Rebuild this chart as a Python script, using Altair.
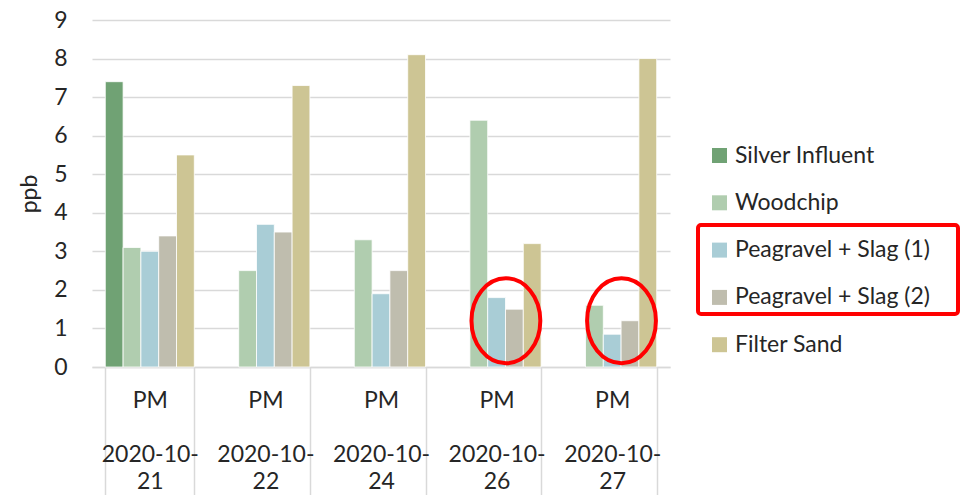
import altair as alt
import pandas as pd

# ---- data ----
dates = ["2020-10-21", "2020-10-22", "2020-10-24", "2020-10-26", "2020-10-27"]
session = "PM"
series = ["Silver Influent", "Woodchip", "Peagravel + Slag (1)",
          "Peagravel + Slag (2)", "Filter Sand"]
silver_influent = [7.4, None, None, None, None]
woodchip = [3.1, 2.5, 3.3, 6.4, 1.6]
peagravel_slag_1 = [3.0, 3.7, 1.9, 1.8, 0.85]
peagravel_slag_2 = [3.4, 3.5, 2.5, 1.5, 1.2]
filter_sand = [5.5, 7.3, 8.1, 3.2, 8.0]
colors = ["#70a274", "#b0cdaf", "#a9cdd6", "#bfbdae", "#cdc594"]

highlight_dates = ["2020-10-26", "2020-10-27"]
highlight_level = [1.2, 1.2]

# ---- tables ----
cols = [silver_influent, woodchip, peagravel_slag_1, peagravel_slag_2, filter_sand]
rows = []
for s, vals in zip(series, cols):
    for d, v in zip(dates, vals):
        if v is not None:
            rows.append({"date": d, "series": s, "value": v})
df = pd.DataFrame(rows)
hl = pd.DataFrame({"date": highlight_dates, "series": [series[3]] * 2,
                   "value": highlight_level})

FONT = "Lato"
TXT = "#262626"
GRID = "#d9d9d9"

x_enc = alt.X(
    "date:N",
    scale=alt.Scale(domain=dates, paddingInner=0.23, paddingOuter=0.115),
    axis=alt.Axis(
        title=None,
        labelExpr=("datum.label ? ['" + session + "', '\\u200b', "
                   "slice(datum.label, 0, 8), slice(datum.label, 8)] : ''"),
        labelAngle=0, labelFontSize=23, labelLineHeight=27, labelFont=FONT,
        labelColor=TXT, labelBaseline="top",
        tickBand="extent", tickSize=128, tickColor=GRID, tickWidth=1.5,
        labelPadding=-106, domainColor=GRID, domainWidth=1.5,
    ),
)
xoff = alt.XOffset("series:N", scale=alt.Scale(domain=series, paddingInner=0, paddingOuter=0))
y_enc = alt.Y(
    "value:Q",
    scale=alt.Scale(domain=[0, 9], nice=False),
    axis=alt.Axis(
        values=list(range(10)), title="ppb", grid=True, gridColor=GRID, gridWidth=1.5,
        domain=False, ticks=False, labelPadding=25, labelFontSize=23, labelFont=FONT,
        labelColor=TXT, titleFontSize=23, titleFont=FONT, titleFontWeight="normal",
        titleColor=TXT, titlePadding=12, labelOverlap=False,
    ),
)

bars = alt.Chart(df).mark_bar(stroke="white", strokeWidth=0.8).encode(
    x=x_enc,
    xOffset=xoff,
    y=y_enc,
    color=alt.Color(
        "series:N",
        scale=alt.Scale(domain=series, range=colors),
        legend=alt.Legend(
            title=None, orient="none", legendX=616, legendY=124,
            symbolType="square", symbolSize=225, symbolStrokeWidth=0,
            labelFontSize=23, labelFont=FONT, labelColor=TXT, labelOffset=4,
            rowPadding=23.3, labelLimit=400,
        ),
    ),
)

# ellipse outline, its centre shifted left by 0.2 of the half-size
ellipse_path = "M-0.2,-1A0.81,1 0 1,1 -0.2,1A0.81,1 0 1,1 -0.2,-1Z"
ellipses = alt.Chart(hl).mark_point(
    shape=ellipse_path, size=7225, filled=False, stroke="#ff0000",
    strokeWidth=4, opacity=1,
).encode(x=x_enc, xOffset=xoff, y=y_enc)

legend_box = alt.Chart(pd.DataFrame({"k": [0]})).mark_rect(
    fill=None, stroke="#ff0000", strokeWidth=4, cornerRadius=3,
).encode(x=alt.value(606), x2=alt.value(866), y=alt.value(205), y2=alt.value(294))

chart = alt.layer(bars, ellipses, legend_box).properties(
    width=578, height=347,
    autosize=alt.AutoSizeParams(type="none"),
    padding={"left": 84, "top": 12, "right": 290, "bottom": 130},
).configure_view(stroke=None)

chart.save("out.html", embed_options={"renderer": "svg", "actions": False})
